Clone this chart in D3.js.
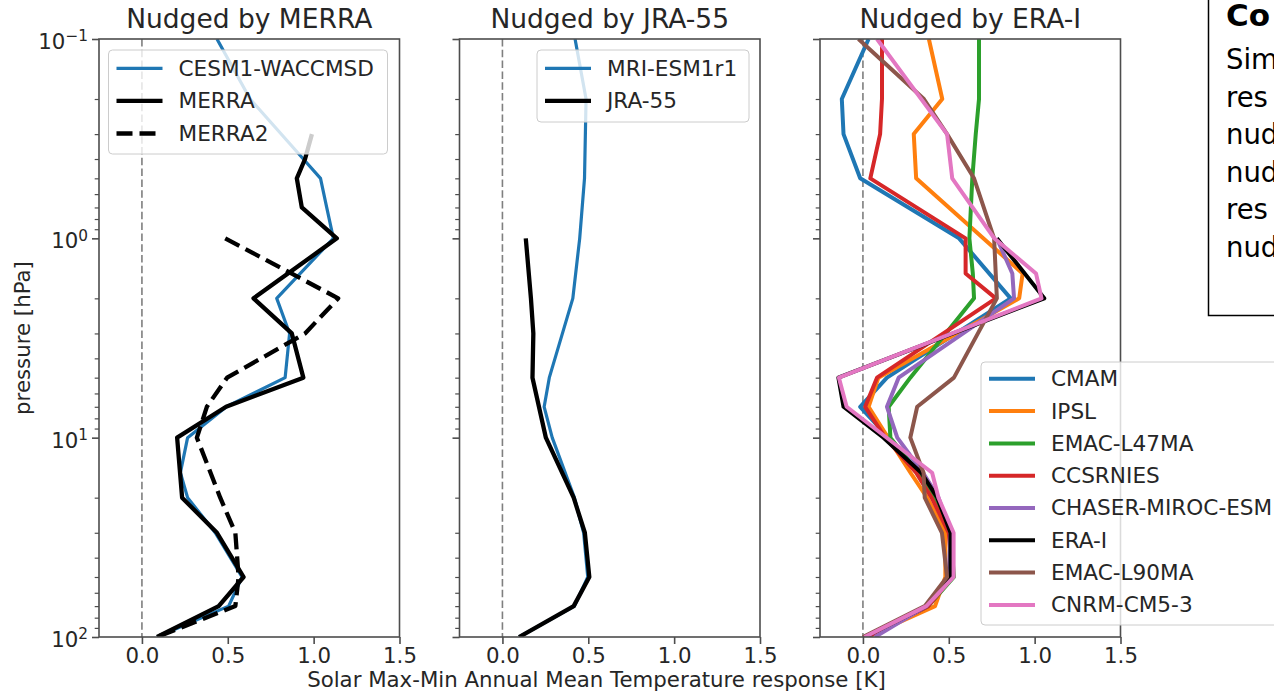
<!DOCTYPE html>
<html>
<head>
<meta charset="utf-8">
<script src="https://cdn.jsdelivr.net/npm/d3@7"></script>
<style>
  html, body { margin: 0; padding: 0; background: #fff; overflow: hidden; }
  svg { display: block; }
  text { font-family: "DejaVu Sans", sans-serif; fill: #262626; }
</style>
</head>
<body>
<svg id="chart" width="1274" height="693"></svg>
<script>
// ---------------- data ----------------
// Pressure levels (hPa) and temperature responses (K); null = no value at that level.
const merraLevels = [0.1, 0.2, 0.3, 0.4, 0.5, 0.7, 1, 2, 3, 5, 7, 10, 15, 20, 30, 50, 70, 100];
const cesm1Waccmsd = [0.437, 0.63, null, 0.94, 1.04, 1.076, 1.115, 0.785, 0.86, 0.834, 0.492, 0.266, 0.224, 0.266, 0.427, 0.583, 0.505, 0.088];
const merra       = [null, null, 0.99, 0.95, 0.902, 0.931, 1.135, 0.65, 0.873, 0.94, 0.49, 0.205, null, 0.234, 0.437, 0.592, 0.447, 0.088];
const merra2      = [null, null, null, null, null, null, 0.485, 1.143, 0.95, 0.496, 0.378, 0.32, null, 0.456, 0.544, 0.563, 0.544, 0.088];

const jraLevels = [0.1, 0.2, 0.5, 1, 2, 3, 5, 7, 10, 20, 30, 50, 70, 100];
const mriEsm1r1 = [0.423, 0.487, 0.478, 0.45, 0.41, null, 0.273, 0.243, 0.29, 0.419, 0.473, 0.497, 0.419, 0.097];
const jra55     = [null, null, null, 0.136, 0.166, 0.18, 0.175, null, 0.253, 0.415, 0.48, 0.506, 0.415, 0.097];

const eraLevels = [0.1, 0.2, 0.3, 0.5, 1, 1.5, 2, 5, 7, 10, 15, 20, 30, 50, 70, 100];
const cmam           = [0.033, -0.123, -0.113, -0.016, 0.56, null, 0.86, 0.14, -0.016, 0.15, 0.33, 0.41, 0.51, 0.51, 0.37, 0.01];
const ipsl           = [0.384, 0.462, 0.296, 0.31, null, 0.93, 0.91, 0.09, 0.033, 0.146, 0.277, 0.374, 0.48, 0.48, 0.42, 0.02];
const emacL47ma      = [0.676, 0.676, 0.657, 0.637, 0.62, 0.64, 0.647, 0.276, 0.15, 0.16, 0.32, 0.41, 0.51, 0.53, 0.38, 0.02];
const ccsrnies       = [0.111, 0.111, 0.10, 0.043, 0.598, 0.598, 0.774, 0.082, 0.013, 0.13, 0.31, 0.40, 0.50, 0.52, 0.38, 0.03];
const chaserMirocEsm = [null, null, null, null, 0.78, 0.87, 0.88, 0.208, 0.14, 0.2, 0.35, 0.44, 0.51, 0.50, 0.37, 0.07];
const eraI           = [null, null, null, null, 0.78, null, 1.056, -0.143, -0.113, 0.12, 0.34, 0.433, 0.51, 0.51, 0.37, 0.01];
const emacL90ma      = [-0.026, 0.355, 0.49, 0.647, 0.764, null, 0.78, 0.53, 0.316, 0.276, 0.353, 0.36, 0.46, 0.49, 0.36, 0.0];
const cnrmCm53       = [0.082, null, 0.49, 0.52, 0.765, 1.008, 1.04, -0.14, -0.095, null, 0.403, 0.44, 0.528, 0.528, 0.37, 0.01];

const xTickValues = [0.0, 0.5, 1.0, 1.5];
const yMajorTicks = [0.1, 1, 10, 100];
const yTickExponents = ["\u22121", "0", "1", "2"];
const panelTitles = ["Nudged by MERRA", "Nudged by JRA-55", "Nudged by ERA-I"];
const xLabel = "Solar Max-Min Annual Mean Temperature response [K]";
const yLabel = "pressure [hPa]";
const noteHeading = "Co";
const noteLines = ["Sim", "res", "nud", "nud", "res", "nud"];

// ---------------- layout ----------------
const plotTop = 39, plotBottom = 637, plotWidth = 300.5;
const panelLeft = [99, 459.5, 820];
const xDomain = [-0.25, 1.5];
const C = { blue: "#1f77b4", orange: "#ff7f0e", green: "#2ca02c", red: "#d62728",
            purple: "#9467bd", black: "#000000", brown: "#8c564b", pink: "#e377c2" };

const panels = [
  { levels: merraLevels, series: [
      { name: "CESM1-WACCMSD", values: cesm1Waccmsd, color: C.blue, width: 3.2 },
      { name: "MERRA", values: merra, color: C.black, width: 4.3 },
      { name: "MERRA2", values: merra2, color: C.black, width: 4.3, dash: "16,7" } ],
    legend: { x: 108.5, y: 50, w: 279, h: 104, rowY: 68.3, rowGap: 32.6 } },
  { levels: jraLevels, series: [
      { name: "MRI-ESM1r1", values: mriEsm1r1, color: C.blue, width: 3.2 },
      { name: "JRA-55", values: jra55, color: C.black, width: 4.3 } ],
    legend: { x: 537, y: 50, w: 212, h: 72, rowY: 68.3, rowGap: 32.6 } },
  { levels: eraLevels, series: [
      { name: "CMAM", values: cmam, color: C.blue, width: 4 },
      { name: "IPSL", values: ipsl, color: C.orange, width: 4 },
      { name: "EMAC-L47MA", values: emacL47ma, color: C.green, width: 4 },
      { name: "CCSRNIES", values: ccsrnies, color: C.red, width: 4 },
      { name: "CHASER-MIROC-ESM", values: chaserMirocEsm, color: C.purple, width: 4 },
      { name: "ERA-I", values: eraI, color: C.black, width: 4 },
      { name: "EMAC-L90MA", values: emacL90ma, color: C.brown, width: 4 },
      { name: "CNRM-CM5-3", values: cnrmCm53, color: C.pink, width: 4 } ],
    legend: { x: 981, y: 362, w: 320, h: 263, rowY: 378.8, rowGap: 32.3 } }
];

const svg = d3.select("#chart");
const defs = svg.append("defs");
const y = d3.scaleLog().domain([0.1, 100]).range([plotTop, plotBottom]);

const minorTicks = [];
[0.1, 1, 10].forEach(dec => { for (let k = 2; k <= 9; k++) minorTicks.push(dec * k); });

panels.forEach((cfg, i) => {
  const x0 = panelLeft[i], x1 = x0 + plotWidth;
  const x = d3.scaleLinear().domain(xDomain).range([x0, x1]);
  const g = svg.append("g");

  defs.append("clipPath").attr("id", "clip" + i)
    .append("rect").attr("x", x0).attr("y", plotTop)
    .attr("width", plotWidth).attr("height", plotBottom - plotTop);

  // zero reference line
  g.append("line")
    .attr("x1", x(0)).attr("x2", x(0)).attr("y1", plotTop).attr("y2", plotBottom)
    .attr("stroke", "#7f7f7f").attr("stroke-width", 1.6).attr("stroke-dasharray", "7.5,3.3");

  // profiles
  const line = d3.line().x(d => x(d.v)).y(d => y(d.p));
  const plotG = g.append("g").attr("clip-path", `url(#clip${i})`);
  cfg.series.forEach(s => {
    const pts = cfg.levels.map((p, k) => ({ p, v: s.values[k] })).filter(d => d.v !== null);
    plotG.append("path").datum(pts)
      .attr("d", line).attr("fill", "none")
      .attr("stroke", s.color).attr("stroke-width", s.width)
      .attr("stroke-linejoin", "round")
      .attr("stroke-dasharray", s.dash || null);
  });

  // frame
  g.append("rect").attr("x", x0).attr("y", plotTop)
    .attr("width", plotWidth).attr("height", plotBottom - plotTop)
    .attr("fill", "none").attr("stroke", "#4d4d4d").attr("stroke-width", 1.6);

  // x axis
  const xAxis = g.append("g").attr("transform", `translate(0,${plotBottom})`)
    .call(d3.axisBottom(x).tickValues(xTickValues).tickFormat(d3.format(".1f"))
      .tickSize(7).tickPadding(4));
  xAxis.select(".domain").remove();
  xAxis.selectAll(".tick line").attr("stroke", "#4d4d4d").attr("stroke-width", 1.6);
  xAxis.selectAll(".tick text").attr("font-size", 21.3).attr("font-family", "DejaVu Sans").attr("fill", "#262626");

  // y axis: minor ticks
  const yMinor = g.append("g").attr("transform", `translate(${x0},0)`)
    .call(d3.axisLeft(y).tickValues(minorTicks).tickSize(4.3).tickFormat(""));
  yMinor.select(".domain").remove();
  yMinor.selectAll(".tick line").attr("stroke", "#4d4d4d").attr("stroke-width", 1.2);

  // y axis: major ticks, labelled on the first panel only
  const yMajor = g.append("g").attr("transform", `translate(${x0},0)`)
    .call(d3.axisLeft(y).tickValues(yMajorTicks).tickSize(7).tickPadding(4).tickFormat(""));
  yMajor.select(".domain").remove();
  yMajor.selectAll(".tick line").attr("stroke", "#4d4d4d").attr("stroke-width", 1.6);
  if (i === 0) {
    yMajor.selectAll(".tick text").each(function (d, k) {
      const t = d3.select(this);
      t.text("").attr("font-size", 21.3).attr("font-family", "DejaVu Sans")
        .attr("fill", "#262626").attr("dy", "0.45em");
      t.append("tspan").text("10");
      t.append("tspan").attr("dy", "-0.5em").attr("font-size", "72%").text(yTickExponents[k]);
    });
  }

  // title
  svg.append("text").attr("x", (x0 + x1) / 2).attr("y", 28)
    .attr("text-anchor", "middle").attr("font-size", 26.5).text(panelTitles[i]);

  // legend
  const L = cfg.legend;
  const lg = svg.append("g");
  lg.append("rect").attr("x", L.x).attr("y", L.y).attr("width", L.w).attr("height", L.h)
    .attr("rx", 4).attr("fill", "#fff").attr("fill-opacity", 0.8)
    .attr("stroke", "#cccccc").attr("stroke-width", 1);
  cfg.series.forEach((s, k) => {
    const ry = L.rowY + k * L.rowGap;
    lg.append("line").attr("x1", L.x + 8).attr("x2", L.x + 54).attr("y1", ry).attr("y2", ry)
      .attr("stroke", s.color).attr("stroke-width", s.width)
      .attr("stroke-dasharray", s.dash || null);
    lg.append("text").attr("x", L.x + 70).attr("y", ry + 7.4)
      .attr("font-size", 21.6).text(s.name);
  });
});

// shared axis labels
svg.append("text").attr("x", 596.5).attr("y", 687).attr("text-anchor", "middle")
  .attr("font-size", 21.3).text(xLabel);
svg.append("text").attr("transform", "translate(30,338) rotate(-90)")
  .attr("text-anchor", "middle").attr("font-size", 21.3).text(yLabel);

// side note box
const note = svg.append("g");
note.append("rect").attr("x", 1208.5).attr("y", -5).attr("width", 120).attr("height", 320.5)
  .attr("fill", "#fff").attr("stroke", "#000").attr("stroke-width", 1.5);
note.append("text").attr("x", 1226).attr("y", 26)
  .attr("font-family", "Open Sans, sans-serif").attr("font-size", 31)
  .attr("font-weight", 700).style("fill", "#000").text(noteHeading);
noteLines.forEach((s, k) => {
  note.append("text").attr("x", 1226).attr("y", 69 + k * 37.5)
    .attr("font-family", "Open Sans, sans-serif").attr("font-size", 27.5)
    .style("fill", "#000").text(s);
});
</script>
</body>
</html>
